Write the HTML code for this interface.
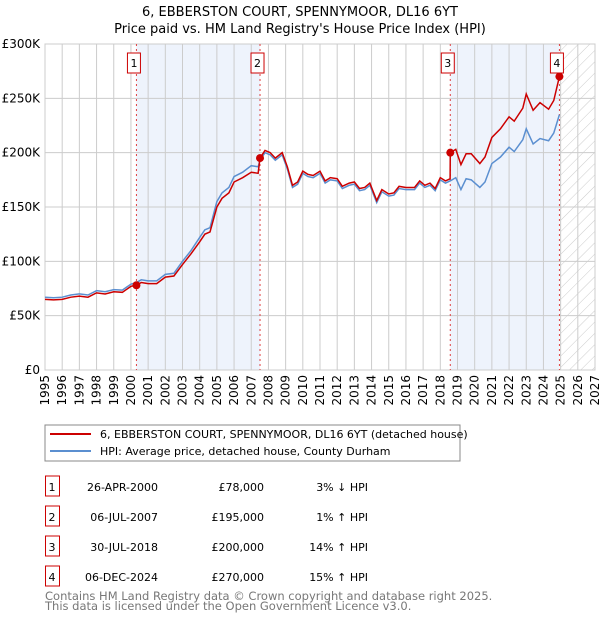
<!DOCTYPE html>
<html><head><meta charset="utf-8"><style>
body{margin:0;background:#fff;font-family:"Liberation Sans","DejaVu Sans",sans-serif;}
svg text{font-family:"DejaVu Sans","Liberation Sans",sans-serif;}
</style></head><body>
<svg id="chart" width="600" height="620" xmlns="http://www.w3.org/2000/svg">
<defs><pattern id="hatch" width="8" height="8" patternUnits="userSpaceOnUse" patternTransform="rotate(45)"><line x1="0" y1="0" x2="0" y2="8" stroke="#ccc" stroke-width="1"/></pattern></defs>
<text x="300" y="16" text-anchor="middle" font-size="13">6, EBBERSTON COURT, SPENNYMOOR, DL16 6YT</text>
<text x="300" y="33" text-anchor="middle" font-size="13">Price paid vs. HM Land Registry's House Price Index (HPI)</text>
<g id="plot"></g>
<g>
<rect x="45" y="425" width="415" height="36" fill="#fff" stroke="#888" stroke-width="1"/>
<line x1="50" y1="434" x2="91" y2="434" stroke="#cc0000" stroke-width="2"/>
<text x="100" y="438" font-size="11">6, EBBERSTON COURT, SPENNYMOOR, DL16 6YT (detached house)</text>
<line x1="50" y1="451" x2="91" y2="451" stroke="#5b8fd0" stroke-width="2"/>
<text x="100" y="455" font-size="11">HPI: Average price, detached house, County Durham</text>
</g>
<g id="table" font-size="11"></g>
<text x="45" y="600" font-size="11.5" fill="#777">Contains HM Land Registry data © Crown copyright and database right 2025.</text>
<text x="45" y="610" font-size="11.5" fill="#777">This data is licensed under the Open Government Licence v3.0.</text>
</svg>
<script>
const years=[1995,1995.5,1996,1996.5,1997,1997.5,1998,1998.5,1999,1999.5,2000,2000.32,2000.6,2001,2001.5,2002,2002.5,2003,2003.5,2004,2004.3,2004.6,2005,2005.3,2005.7,2006,2006.5,2007,2007.4,2007.51,2007.8,2008.1,2008.4,2008.8,2009.1,2009.4,2009.7,2010,2010.3,2010.6,2011,2011.3,2011.6,2012,2012.3,2012.7,2013,2013.3,2013.6,2013.9,2014.3,2014.6,2015,2015.3,2015.6,2016,2016.5,2016.8,2017.1,2017.4,2017.7,2018,2018.3,2018.57,2018.58,2018.9,2019.2,2019.5,2019.8,2020.3,2020.6,2021,2021.5,2022,2022.3,2022.8,2023,2023.4,2023.8,2024.3,2024.6,2024.93];
const hpiValues=[67,66.5,67,69,70,69,73,72,74,73.5,79,80.5,83,82,82,88,89,100,110,122,129,131,155,163,168,178,182,188,187,193,200,198,193,198,185,168,171,181,178,177,181,172,175,174,167,170,171,165,166,170,154,164,160,161,167,166,166,172,168,170,165,175,172,174,174,177,166,176,175,168,173,190,196,205,201,212,222,208,213,211,218,235];
const priceValues=[65,64.5,65,67,68,67,71,70,72,71.5,77,78,80.5,79.5,79.5,85.5,86.5,97,107,118,125,127,150,158,163,173,177,182,181,195,202,200,195,200,187,170,173,183,180,179,183,174,177,176,169,172,173,167,168,172,156,166,162,163,169,168,168,174,170,172,167,177,174,176,200,203,189,199,199,190,196,214,222,233,229,241,254,239,246,240,248,270];
const saleYears=[2000.32,2007.51,2018.58,2024.93];
const saleValues=[78,195,200,270];
const saleLabels=["1","2","3","4"];
const saleDates=["26-APR-2000","06-JUL-2007","30-JUL-2018","06-DEC-2024"];
const salePrices=["£78,000","£195,000","£200,000","£270,000"];
const saleHpi=["3% ↓ HPI","1% ↑ HPI","14% ↑ HPI","15% ↑ HPI"];
const yTicks=[0,50,100,150,200,250,300];
const yTickLabels=["£0","£50K","£100K","£150K","£200K","£250K","£300K"];
const xTicks=[1995,1996,1997,1998,1999,2000,2001,2002,2003,2004,2005,2006,2007,2008,2009,2010,2011,2012,2013,2014,2015,2016,2017,2018,2019,2020,2021,2022,2023,2024,2025,2026,2027];

const NS="http://www.w3.org/2000/svg";
const X0=45,X1=595,Y0=370,Y1=44;
const xs=y=>X0+(y-1995)/(2027-1995)*(X1-X0);
const ys=v=>Y0-v/300*(Y0-Y1);
const plot=document.getElementById('plot');
function mk(tag,attrs,parent){const e=document.createElementNS(NS,tag);for(const k in attrs)e.setAttribute(k,attrs[k]);(parent||plot).appendChild(e);return e;}

let bg=mk('rect',{x:X0,y:Y1,width:X1-X0,height:Y0-Y1,fill:'#fff'});


let s1=mk('rect',{x:xs(saleYears[0]),y:Y1,width:xs(saleYears[1])-xs(saleYears[0]),height:Y0-Y1,fill:'#eef3fc'});


let s2=mk('rect',{x:xs(saleYears[2]),y:Y1,width:xs(saleYears[3])-xs(saleYears[2]),height:Y0-Y1,fill:'#eef3fc'});


let h=mk('rect',{x:xs(2025),y:Y1,width:X1-xs(2025),height:Y0-Y1,fill:'url(#hatch)'});



xTicks.forEach(t=>{
  const g=mk('line',{x1:xs(t),x2:xs(t),y1:Y1,y2:Y0,stroke:'#ccc','stroke-width':1});
  
  
  const tx=mk('text',{x:0,y:0,'font-size':12,'text-anchor':'end',transform:`translate(${xs(t)+4},${Y0+5}) rotate(-90)`});
  tx.textContent=t;
  
  
});
yTicks.forEach((t,i)=>{
  const g=mk('line',{x1:X0,x2:X1,y1:ys(t),y2:ys(t),stroke:'#ccc','stroke-width':1});
  
  
  const tx=mk('text',{x:X0-5,y:ys(t)+4,'font-size':12,'text-anchor':'end'});
  tx.textContent=yTickLabels[i];
  
  
});
let fr=mk('rect',{x:X0,y:Y1,width:X1-X0,height:Y0-Y1,fill:'none',stroke:'#ccc'});



saleYears.forEach((y,i)=>{
  const l=mk('line',{x1:xs(y),x2:xs(y),y1:Y1,y2:Y0,stroke:'#e04040','stroke-width':1,'stroke-dasharray':'2,3'});
  
  
});

const hp=mk('polyline',{points:years.map((y,i)=>xs(y)+','+ys(hpiValues[i])).join(' '),fill:'none',stroke:'#5b8fd0','stroke-width':1.5});


const pp=mk('polyline',{points:years.map((y,i)=>xs(y)+','+ys(priceValues[i])).join(' '),fill:'none',stroke:'#cc0000','stroke-width':1.5});



saleYears.forEach((y,i)=>{
  const c=mk('circle',{cx:xs(y),cy:ys(saleValues[i]),r:4,fill:'#cc0000'});
  
  
  const bx=xs(y)-9;
  const b=mk('rect',{x:bx,y:53,width:13,height:20,fill:'#fff',stroke:'#cc0000'});
  
  
  const t=mk('text',{x:bx+6.5,y:67,'font-size':11,'text-anchor':'middle'});
  t.textContent=saleLabels[i];
  
  
});

const tbl=document.getElementById('table');
saleLabels.forEach((l,i)=>{
  const yy=476+i*30;
  const b=mk('rect',{x:45.5,y:yy,width:14,height:20,fill:'#fff',stroke:'#cc0000'},tbl);
  
  
  const cells=[[52,l,'middle'],[158,saleDates[i],'end'],[264,salePrices[i],'end'],[368,saleHpi[i],'end']];
  cells.forEach(c=>{
    const t=mk('text',{x:c[0],y:yy+15,'text-anchor':c[2]},tbl);
    t.textContent=c[1];
    
    
  });
});
</script>
</body></html>
